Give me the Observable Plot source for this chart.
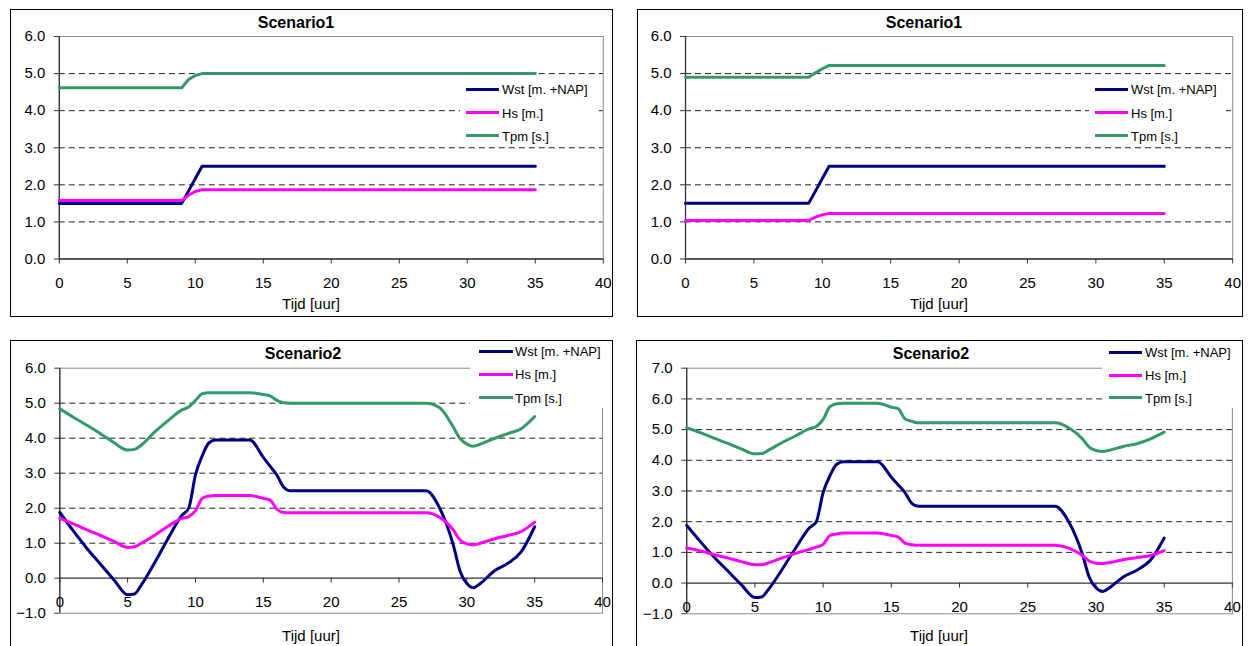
<!DOCTYPE html>
<html><head><meta charset="utf-8">
<script src="https://cdn.jsdelivr.net/npm/d3@7"></script>
<script src="https://cdn.jsdelivr.net/npm/@observablehq/plot@0.6"></script>
<style>
html,body{margin:0;padding:0;background:#fff;overflow:hidden}
#root{position:relative;width:1253px;height:646px;overflow:hidden;font-family:"Liberation Sans",Arial,sans-serif;color:#000}
.panel{position:absolute;border:1px solid #000;box-sizing:border-box;}
.abs{position:absolute;white-space:nowrap;}
.title{font-weight:bold;font-size:16px;transform:translate(-50%,-50%);}
.xlab{font-size:15px;transform:translate(-50%,-50%);}
.lbox{position:absolute;background:#fff;}
.lsw{position:absolute;height:3px;}
.ltx{position:absolute;font-size:13px;transform:translateY(-50%);white-space:nowrap;}
</style></head><body><div id="root"></div><script>
// ---- data ----
const seriesNames = ["Wst [m. +NAP]", "Hs [m.]", "Tpm [s.]"];
const seriesColors = ["#000080", "#ff00ff", "#339966"];
const titles = ["Scenario1", "Scenario1", "Scenario2", "Scenario2"];
const xLabel = "Tijd [uur]";
const xTicks = [0, 5, 10, 15, 20, 25, 30, 35, 40];
const yTicksTop = [0, 1, 2, 3, 4, 5, 6];
const yTicksBL = [-1, 0, 1, 2, 3, 4, 5, 6];
const yTicksBR = [-1, 0, 1, 2, 3, 4, 5, 6, 7];

// Scenario1
const tijd1 = [0, 9, 9.5, 10, 10.5, 35];
const wst1 = [1.5, 1.5, 1.83, 2.17, 2.5, 2.5];
const hs1a = [1.58, 1.58, 1.72, 1.82, 1.87, 1.87];
const tpm1a = [4.62, 4.62, 4.84, 4.95, 5.0, 5.0];
const hs1b = [1.04, 1.04, 1.13, 1.19, 1.23, 1.23];
const tpm1b = [4.9, 4.9, 5.02, 5.13, 5.22, 5.22];

// Scenario2
const tijd2 = [0,1,2,3,4,5,5.5,6,7,8,9,9.5,10,10.5,11,11.5,12,13,14,15,15.5,16,16.5,17,20,25,27,28,29,29.5,30,30.5,31,32,33,34,35];
const wst2 = [1.88,1.35,0.85,0.4,-0.05,-0.47,-0.45,-0.2,0.45,1.15,1.8,2.0,2.95,3.5,3.87,3.95,3.95,3.95,3.95,3.45,3.2,2.95,2.6,2.5,2.5,2.5,2.5,2.0,0.95,0.2,-0.15,-0.27,-0.15,0.2,0.42,0.75,1.47];
const hs2a = [1.71,1.55,1.38,1.22,1.05,0.88,0.9,1.0,1.23,1.49,1.71,1.76,1.93,2.28,2.35,2.36,2.36,2.36,2.36,2.28,2.23,1.97,1.88,1.87,1.87,1.87,1.87,1.74,1.38,1.09,0.98,0.95,1.0,1.12,1.22,1.33,1.6];
const tpm2a = [4.84,4.6,4.37,4.13,3.87,3.66,3.68,3.8,4.18,4.51,4.81,4.89,5.08,5.27,5.3,5.3,5.3,5.3,5.3,5.25,5.21,5.08,5.01,5.0,5.0,5.0,5.0,4.87,4.32,3.99,3.83,3.77,3.83,3.99,4.13,4.27,4.62];
const hs2b = [1.14,1.05,0.93,0.82,0.7,0.6,0.6,0.66,0.82,0.97,1.1,1.17,1.26,1.55,1.6,1.63,1.63,1.63,1.63,1.55,1.5,1.3,1.25,1.23,1.23,1.23,1.23,1.14,0.9,0.72,0.65,0.64,0.67,0.76,0.83,0.9,1.06];
const tpm2b = [5.06,4.9,4.72,4.55,4.37,4.21,4.22,4.33,4.58,4.8,5.03,5.1,5.33,5.75,5.84,5.86,5.86,5.86,5.86,5.73,5.68,5.35,5.27,5.22,5.22,5.22,5.22,5.06,4.7,4.43,4.32,4.29,4.33,4.45,4.54,4.7,4.92];

// ---- layout ----
const panels = [
  {box:{l:9.5,t:9,r:613,b:317}, plot:{l:58.3,r:602.3,t:36,b:258.5}, yd:[0,6], yt:yTicksTop,
   title:{x:296,y:23}, xl:{x:311,y:303}, leg:{x1:466,x2:499,tx:502,ys:[89.3,112.5,135.7],bx:460,by:77,bw:137,bh:70},
   t:tijd1, s:[wst1,hs1a,tpm1a], curve:"linear"},
  {box:{l:636.5,t:9,r:1242.7,b:317}, plot:{l:684.5,r:1231.7,t:36,b:258.5}, yd:[0,6], yt:yTicksTop,
   title:{x:924,y:23}, xl:{x:939,y:303}, leg:{x1:1095,x2:1128,tx:1131,ys:[89.3,112.5,135.7],bx:1089,by:77,bw:137,bh:70},
   t:tijd1, s:[wst1,hs1b,tpm1b], curve:"linear"},
  {box:{l:10,t:340,r:613,b:652}, plot:{l:59.3,r:602,t:367.7,b:612.7}, yd:[-1,6], yt:yTicksBL,
   title:{x:303,y:354.3}, xl:{x:311,y:635}, leg:{x1:479.3,x2:512.7,tx:515,ys:[351,374,397.5],bx:470,by:341,bw:142,bh:67},
   t:tijd2, s:[wst2,hs2a,tpm2a], curve:"monotone-x"},
  {box:{l:635.8,t:340,r:1242.7,b:652}, plot:{l:686,r:1231.7,t:367.7,b:613.3}, yd:[-1,7], yt:yTicksBR,
   title:{x:931,y:354.3}, xl:{x:939,y:635}, leg:{x1:1109,x2:1142,tx:1145,ys:[352.3,375,397.7],bx:1102,by:341,bw:140,bh:67},
   t:tijd2, s:[wst2,hs2b,tpm2b], curve:"monotone-x"}
];

const root = document.getElementById("root");
function el(cls, css, text) {
  const d = document.createElement("div");
  d.className = cls;
  Object.assign(d.style, css);
  if (text != null) d.textContent = text;
  root.appendChild(d);
  return d;
}

panels.forEach((p, i) => {
  const {box, plot} = p;
  el("panel", {left: box.l + "px", top: box.t + "px", width: (box.r - box.l) + "px", height: (box.b - box.t) + "px"});
  const grid = p.yt.filter(v => v !== 0 && v > p.yd[0] && v < p.yd[1]);
  const lineMarks = p.s.map((vals, k) =>
    Plot.line(p.t.map((t, j) => ({t, v: vals[j]})), {x: "t", y: "v", stroke: seriesColors[k], strokeWidth: 3, curve: p.curve}));
  const chart = Plot.plot({
    width: box.r - box.l,
    height: box.b - box.t,
    marginLeft: plot.l - box.l,
    marginRight: box.r - plot.r,
    marginTop: plot.t - box.t,
    marginBottom: box.b - plot.b,
    x: {domain: [0, 40], axis: null},
    y: {domain: p.yd},
    style: {fontFamily: '"Liberation Sans", Arial, sans-serif', fontSize: "15px", background: "transparent", color: "#000", overflow: "visible"},
    marks: [
      Plot.frame({stroke: "#8c8c8c"}),
      Plot.ruleY(grid, {stroke: "#222", strokeDasharray: "6,4"}),
      Plot.ruleY([0], {stroke: "#333", strokeWidth: 1.3}),
      Plot.ruleX([0], {stroke: "#333", strokeWidth: 1.3}),
      Plot.axisY(p.yt, {tickSize: 5, tickPadding: 9, tickFormat: d3.format(".1f"), fontSize: 15, stroke: "#333", fill: "#000", label: null}),
      Plot.ruleX(xTicks, {x: d => d, y1: 0, y2: 0, insetBottom: -5, stroke: "#333"}),
      Plot.text(xTicks, {x: d => d, y: 0, dy: 24, text: d => String(d), fontSize: 15, fill: "#000"}),
      ...lineMarks
    ]
  });
  Object.assign(chart.style, {position: "absolute", left: box.l + "px", top: box.t + "px"});
  root.appendChild(chart);
  el("abs title", {left: p.title.x + "px", top: p.title.y + "px"}, titles[i]);
  el("abs xlab", {left: p.xl.x + "px", top: p.xl.y + "px"}, xLabel);
  const lg = p.leg;
  el("lbox", {left: lg.bx + "px", top: lg.by + "px", width: lg.bw + "px", height: lg.bh + "px"});
  seriesNames.forEach((name, k) => {
    el("lsw", {left: lg.x1 + "px", top: (lg.ys[k] - 1.5) + "px", width: (lg.x2 - lg.x1) + "px", background: seriesColors[k]});
    el("ltx", {left: lg.tx + "px", top: lg.ys[k] + "px"}, name);
  });
});
</script></body></html>
